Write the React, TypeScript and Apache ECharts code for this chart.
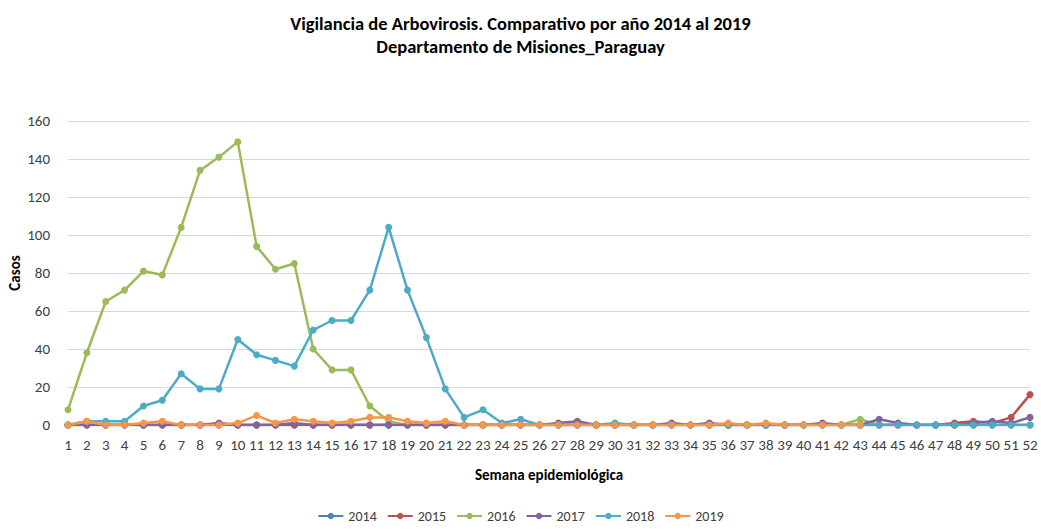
import React, { useEffect, useRef } from "react";
import * as echarts from "echarts";

const weeks = Array.from({ length: 52 }, (_, i) => String(i + 1));

const s2014 = [0,0,0,0,0,0,0,0,0,0,0,0,0,0,0,0,0,0,0,0,0,0,0,0,0,0,0,0,0,0,0,0,0,0,0,0,0,0,0,0,0,0,0,0,0,0,0,0,0,0,0,0];
const s2015 = [0,0,0,0,0,0,0,0,0,0,0,0,0,0,0,0,0,0,0,0,0,0,0,0,0,0,0,0,0,0,0,0,0,0,0,0,0,0,0,0,0,0,0,0,0,0,0,1,2,1,4,16];
const s2016 = [8,38,65,71,81,79,104,134,141,149,94,82,85,40,29,29,10,2,0,0,0,0,0,0,0,0,0,0,0,0,0,0,0,0,0,0,0,0,0,0,0,0,3,0,0,0,0,0,0,0,0,0];
const s2017 = [0,0,0,0,0,0,0,0,1,0,0,0,1,0,0,0,0,0,0,0,0,0,0,0,0,0,1,2,0,0,0,0,1,0,1,0,0,0,0,0,1,0,0,3,1,0,0,0,1,2,1,4];
const s2018 = [0,2,2,2,10,13,27,19,19,45,37,34,31,50,55,55,71,104,71,46,19,4,8,1,3,0,0,0,0,1,0,0,0,0,0,0,0,0,0,0,0,0,0,0,0,0,0,0,0,0,0,0];
const s2019 = [0,2,0,0,1,2,0,0,0,1,5,1,3,2,1,2,4,4,2,1,2,0,0,0,0,0,0,0,0,0,0,0,0,0,0,1,0,1,0,0,0,0,0];

const years = ["2014", "2015", "2016", "2017", "2018", "2019"];
const seriesData = [s2014, s2015, s2016, s2017, s2018, s2019];
const colors = ["#4F81BD", "#C0504D", "#9BBB59", "#8064A2", "#4BACC6", "#F79646"];

const FONT = 'Carlito, "Liberation Sans Narrow", "Open Sans", "Noto Sans", sans-serif';

export default function App() {
  const ref = useRef<HTMLDivElement>(null);
  useEffect(() => {
    if (!ref.current) return;
    const chart = echarts.init(ref.current, null, { renderer: "svg" });
    chart.setOption({
      animation: false,
      backgroundColor: "#ffffff",
      color: colors,
      textStyle: { fontFamily: FONT },
      title: {
        text: "Vigilancia de Arbovirosis. Comparativo por año 2014 al 2019\nDepartamento de Misiones_Paraguay",
        left: "center",
        top: 7,
        textStyle: { fontFamily: FONT, fontSize: 18.5, fontWeight: "bold", color: "#000000", lineHeight: 23 },
      },
      legend: {
        data: years,
        bottom: 1,
        left: "center",
        itemWidth: 25,
        itemHeight: 8,
        itemGap: 10,
        textStyle: { fontFamily: FONT, fontSize: 14, color: "#404040" },
      },
      grid: { left: 68, right: 11, top: 121, bottom: 104, containLabel: false, outerBoundsMode: "none" },
      xAxis: {
        type: "category",
        data: weeks,
        boundaryGap: false,
        name: "Semana epidemiológica",
        nameLocation: "middle",
        nameGap: 42,
        nameTextStyle: { fontFamily: FONT, fontSize: 15, fontWeight: "bold", color: "#000000" },
        axisLine: { show: true, lineStyle: { color: "#D9D9D9" } },
        axisTick: { show: false },
        axisLabel: { fontFamily: FONT, fontSize: 15, color: "#404040", margin: 12, interval: 0 },
      },
      yAxis: {
        type: "value",
        min: 0,
        max: 160,
        interval: 20,
        name: "Casos",
        nameLocation: "middle",
        nameGap: 46,
        nameRotate: 90,
        nameMoveOverlap: false,
        nameTextStyle: { fontFamily: FONT, fontSize: 15, fontWeight: "bold", color: "#000000" },
        axisLine: { show: false },
        axisTick: { show: false },
        axisLabel: { fontFamily: FONT, fontSize: 15, color: "#404040", margin: 18 },
        splitLine: { lineStyle: { color: "#D9D9D9" } },
      },
      series: years.map((y, i) => ({
        name: y,
        type: "line",
        data: seriesData[i],
        symbol: "circle",
        symbolSize: 7,
        lineStyle: { width: 2.5, color: colors[i] },
        itemStyle: { color: colors[i] },
      })),
    });
    return () => chart.dispose();
  }, []);
  return (
    <div
      ref={ref}
      style={{ position: "fixed", left: 0, top: 0, width: 1041, height: 529 }}
    />
  );
}
